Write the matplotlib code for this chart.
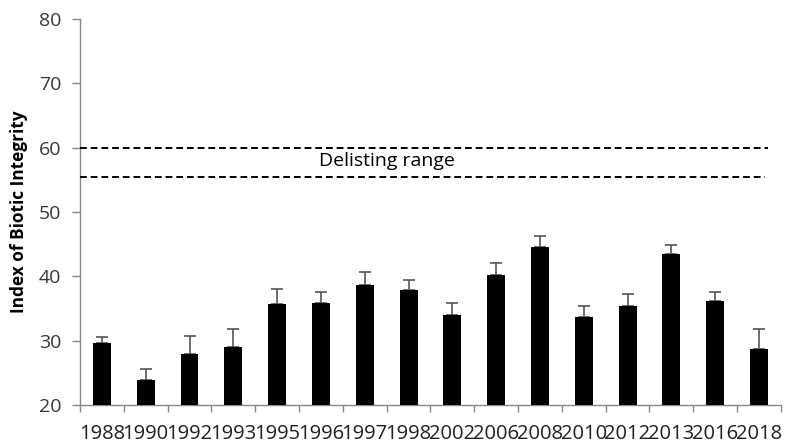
import matplotlib
matplotlib.use("Agg")
import matplotlib.pyplot as plt
import numpy as np

years = ["1988", "1990", "1992", "1993", "1995", "1996", "1997", "1998",
         "2002", "2006", "2008", "2010", "2012", "2013", "2016", "2018"]
ibi_mean = [29.6, 23.9, 27.9, 29.0, 35.7, 35.8, 38.6, 37.8,
            34.0, 40.2, 44.5, 33.7, 35.4, 43.5, 36.1, 28.7]
ibi_err = [0.9, 1.7, 2.9, 2.8, 2.4, 1.7, 2.0, 1.7,
           1.9, 1.8, 1.8, 1.7, 1.9, 1.4, 1.5, 3.1]
delisting_upper = 60.0
delisting_lower = 55.5

plt.rcParams['font.family'] = ['Open Sans', 'DejaVu Sans']

fig = plt.figure(figsize=(7.96, 4.45), dpi=100)
ax = fig.add_axes([0.1005, 0.0899, 0.8805, 0.8674])

x = np.arange(len(years))
ax.bar(x, ibi_mean, width=0.41, color='black', zorder=3)
ax.errorbar(x, ibi_mean, yerr=[np.zeros(len(ibi_err)), ibi_err], fmt='none',
            ecolor='#555555', elinewidth=1.2, capsize=4.5, capthick=1.2, zorder=2)

# delisting range boundaries
ax.plot([-0.5, 15.2], [delisting_upper, delisting_upper], color='black',
        lw=1.4, dashes=(3.5, 2.0), zorder=4, clip_on=False)
ax.plot([-0.5, 15.14], [delisting_lower, delisting_lower], color='black',
        lw=1.4, dashes=(3.5, 2.0), zorder=4, clip_on=False)
ax.text(6.5, 57.9, "Delisting range", ha='center', va='center',
        fontsize=14, color='black')

ax.set_xlim(-0.5, len(years) - 0.5)
ax.set_ylim(20, 80)
ax.set_yticks(range(20, 81, 10))
ax.tick_params(axis='y', labelsize=14, labelcolor='#383838', color='#888888',
               length=6, width=1, pad=7.5)
ax.set_xticks(x)
ax.set_xticklabels(years)
ax.tick_params(axis='x', which='major', length=0, labelsize=14.5,
               labelcolor='#202020', pad=14)
ax.set_xticks(np.arange(-0.5, len(years), 1.0), minor=True)
ax.tick_params(axis='x', which='minor', length=5, color='#888888', width=1)

for side in ('top', 'right'):
    ax.spines[side].set_visible(False)
for side in ('left', 'bottom'):
    ax.spines[side].set_color('#888888')
    ax.spines[side].set_linewidth(1)

ax.set_ylabel("Index of Biotic Integrity", fontsize=12.4, fontweight='bold',
              labelpad=8)

fig.savefig("out.png", dpi=100)
